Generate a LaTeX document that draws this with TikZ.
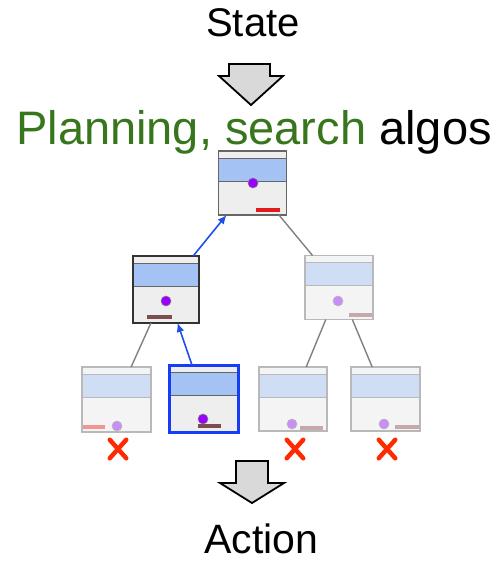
\documentclass[tikz,border=0pt]{standalone}
\usepackage{fontspec}
\setmainfont{Liberation Sans}
\usetikzlibrary{arrows.meta,shapes.misc}
\definecolor{plangreen}{RGB}{56,118,29}
\definecolor{liveblue}{RGB}{164,194,244}
\definecolor{fadeblue}{RGB}{207,221,245}
\definecolor{livefill}{RGB}{238,238,238}
\definecolor{fadefill}{RGB}{244,244,244}
\definecolor{boxgrey}{RGB}{102,102,102}
\definecolor{fadegrey}{RGB}{185,185,185}
\definecolor{dotpurple}{RGB}{153,0,255}
\definecolor{fadepurple}{RGB}{201,142,245}
\definecolor{barred}{RGB}{224,27,27}
\definecolor{barbrown}{RGB}{125,76,76}
\definecolor{fadebrown}{RGB}{200,169,169}
\definecolor{fadered}{RGB}{240,148,148}
\definecolor{pickblue}{RGB}{22,60,245}
\definecolor{arrowblue}{RGB}{31,79,232}
\definecolor{failred}{RGB}{255,42,0}
\definecolor{blockgrey}{RGB}{217,217,217}

\begin{document}
\begin{tikzpicture}[
  x=1pt,y=-1pt,
  boxband/.style 2 args={path picture={
    \fill[#1] ([yshift=-7pt]path picture bounding box.north west)
      rectangle ([yshift=-30pt]path picture bounding box.north east);
    \draw[#2,line width=1pt]
      ([yshift=-7pt]path picture bounding box.north west) -- ([yshift=-7pt]path picture bounding box.north east)
      ([yshift=-30pt]path picture bounding box.north west) -- ([yshift=-30pt]path picture bounding box.north east);}},
  statebox/.style={rectangle,line width=1.4pt,minimum width=68pt,minimum height=64pt,inner sep=0pt,outer sep=0pt},
  livebox/.style={statebox,draw=boxgrey,fill=livefill,boxband={liveblue}{boxgrey}},
  fadedbox/.style={statebox,draw=fadegrey,fill=fadefill,boxband={fadeblue}{fadegrey}},
  dot/.style={circle,fill=#1,draw=gray,line width=0.6pt,inner sep=0pt,minimum size=10pt},
  bar/.style={draw=#1,line width=3.5pt},
  edge/.style={draw=gray,line width=1.4pt},
  path/.style={draw=arrowblue,line width=1.6pt,-{Latex[length=9pt,width=8pt]}},
  fail/.style={cross out,draw=failred,line width=4.5pt,line cap=round,minimum width=12pt,minimum height=14pt,inner sep=0pt},
  blockarrow/.style={fill=blockgrey,draw=black,line width=1.8pt,line join=miter}
]
\useasboundingbox (0,0) rectangle (500,562);

% labels
\node[anchor=base,font=\fontsize{40}{48}\selectfont] (state) at (253,36) {State};
\node[anchor=base,font=\fontsize{47}{56}\selectfont] (algos) at (254,144)
  {\textcolor{plangreen}{Planning, search} algos};
\node[anchor=base,font=\fontsize{41}{49}\selectfont] (action) at (261.5,553) {Action};

% block arrows
\filldraw[blockarrow] (229,64) -- (270,64) -- (270,76) -- (283,76) -- (251,105) -- (219,76) -- (229,76) -- cycle;
\filldraw[blockarrow] (236,461) -- (268,461) -- (268,483) -- (284,483) -- (252,503) -- (220,483) -- (236,483) -- cycle;

% search tree
\node[livebox] (root) at (252.5,183) {};
\node[livebox,draw=black!80,minimum width=66pt,minimum height=67pt] (mid) at (166,289.5) {};
\node[fadedbox] (right) at (339,287.5) {};
\node[fadedbox,minimum width=69pt,minimum height=65pt] (leafa) at (116.5,399.5) {};
\node[livebox,draw=pickblue,line width=3pt,minimum width=69pt,minimum height=67pt] (leafb) at (203.5,398.5) {};
\node[fadedbox] (leafc) at (293,399) {};
\node[fadedbox,minimum width=69pt] (leafd) at (385.5,399) {};

\draw[edge] (root) -- (right);
\draw[edge] (mid) -- (leafa);
\draw[edge] (right) -- (leafc);
\draw[edge] (right) -- (leafd);
\draw[path] (mid) -- (root);
\draw[path] (leafb) -- (mid);

% ball and paddle in each state
\node[dot=dotpurple] (rootball) at (253,183) {};
\draw[bar=barred] (256,210) -- (280,210);
\node[dot=dotpurple] (midball) at (166,301) {};
\draw[bar=barbrown] (147,317) -- (172,317);
\node[dot=fadepurple,draw=fadegrey] (rightball) at (338,301) {};
\draw[bar=fadebrown] (349,315) -- (372,315);
\node[dot=fadepurple,draw=fadegrey] (leafaball) at (117,426) {};
\draw[bar=fadered] (83,427) -- (105,427);
\node[dot=dotpurple] (leafbball) at (203,419) {};
\draw[bar=barbrown] (198,426) -- (221,426);
\node[dot=fadepurple,draw=fadegrey] (leafcball) at (292,424) {};
\draw[bar=fadebrown] (300,428) -- (323,428);
\node[dot=fadepurple,draw=fadegrey] (leafdball) at (384,424) {};
\draw[bar=fadebrown] (395,427) -- (419,427);

% dead ends
\node[fail] (faila) at (118,449) {};
\node[fail] (failc) at (295,449) {};
\node[fail] (faild) at (387,449) {};
\end{tikzpicture}
\end{document}
